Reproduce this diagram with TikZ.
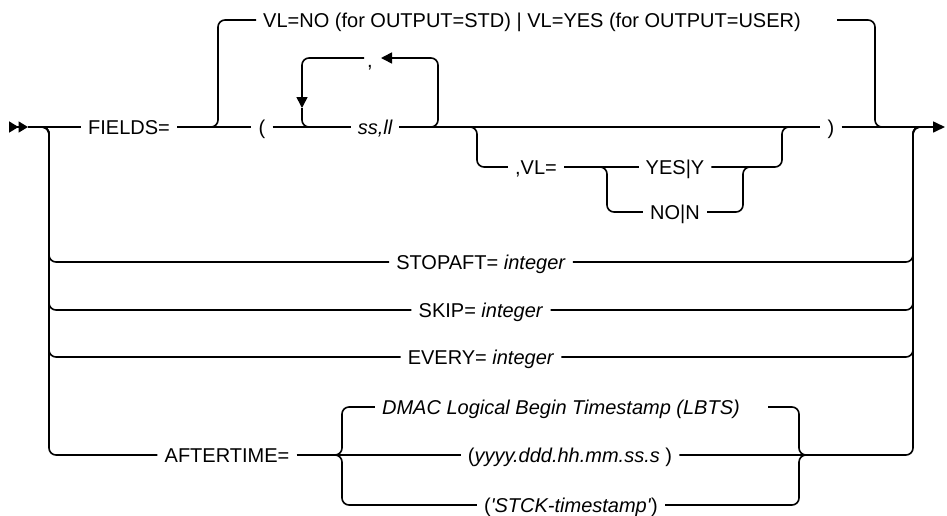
\documentclass[tikz,border=0pt]{standalone}
\usepackage{fontspec}
\setmainfont{Liberation Sans}
\usetikzlibrary{positioning, arrows.meta, calc}

\begin{document}
\begin{tikzpicture}[
    x=1pt, y=-1pt,
    rail/.style={
        line width=1.6pt,
        rounded corners=7pt
    },
    kw/.style={
        inner xsep=7pt,
        inner ysep=0pt,
        text height=14.3pt,
        text depth=0pt,
        font=\fontsize{20}{24}\selectfont
    },
    var/.style={
        kw,
        font=\fontsize{20}{24}\selectfont\itshape
    }
]
    \useasboundingbox (0,0) rectangle (947,515);

    % --- Main line ---
    \coordinate (start) at (9,127);
    \coordinate (in) at (28,127);
    \node[kw] (fields) at (129,127) {FIELDS=};
    \node[kw] (lparen) at (262,127) {(};
    \node[var] (ssll) at (375,127) {ss,ll};
    \node[kw] (rparen) at (831,127) {)};
    \coordinate (out) at (945,127);

    \draw[rail, -{Triangle[length=9.5pt, width=11pt]Triangle[length=9.5pt, width=11pt]}] (start) -- (in);
    \draw[rail] (in) -- (fields.west);
    \draw[rail] (fields.east) -- (lparen.west);
    \draw[rail] (lparen.east) -- (ssll.west);
    \draw[rail] (ssll.east) -- (rparen.west);
    \draw[rail, -{Triangle[length=12pt, width=11pt]}] (rparen.east) -- (out);

    % --- Default VL (bypass) ---
    \node[kw] (topvl) at (532,20) {VL=NO (for OUTPUT=STD) | VL=YES (for OUTPUT=USER)};
    \coordinate (topsplit) at (218,127);
    \coordinate (topend) at (837,20);
    \coordinate (topjoin) at (875,127);
    \draw[rail] ($(topsplit)+(-12,0)$) -| (topvl.west -| topsplit) -- (topvl.west);
    \draw[rail] (topend) -| (topjoin) -- ($(topjoin)+(12,0)$);

    % --- Repeat loop ---
    \node[kw, inner xsep=2pt] (comma) at (370,60) {,};
    \coordinate (loopl) at (302,127);
    \coordinate (loopr) at (438,127);
    \coordinate (looptop) at (438,58);
    \coordinate (looptip) at (381,58);
    \coordinate (loopstart) at (364,58);
    \coordinate (loopcorner) at (302,58);
    \coordinate (loopdown) at (302,108);
    \draw[rail, -{Triangle[length=11pt, width=11pt]}] ($(loopr)+(-14,0)$) -| (looptop) -- (looptip);
    \draw[rail, -{Triangle[length=11pt, width=11pt]}] (loopstart) -- (loopcorner) -- (loopdown);
    \draw[rail] (loopdown) -- (loopl) -- ($(loopl)+(14,0)$);

    % --- Optional VL ---
    \coordinate (vlsplit) at (477,127);
    \coordinate (vljoin) at (782,127);
    \node[kw] (vlkw) at (536,167) {,VL=};
    \coordinate (ynsplit) at (607,167);
    \coordinate (ynjoin) at (743,167);
    \node[kw] (yes) at (675,167) {YES|Y};
    \node[kw] (no) at (675,212) {NO|N};
    \draw[rail] ($(vlsplit)+(-12,0)$) -| (vlkw.west -| vlsplit) -- (vlkw.west);
    \draw[rail] (vlkw.east) -- (yes.west);
    \draw[rail] (yes.east) -| (vljoin) -- ($(vljoin)+(12,0)$);
    \draw[rail] ($(ynsplit)+(-12,0)$) -| (no.west -| ynsplit) -- (no.west);
    \draw[rail] (no.east) -| (ynjoin) -- ($(ynjoin)+(12,0)$);

    % --- Other keywords ---
    \coordinate (lrail) at (49,127);
    \coordinate (rrail) at (913,127);
    \node[kw] (stopaft) at (481,262) {STOPAFT= \textit{integer}};
    \node[kw] (skip) at (481,310) {SKIP= \textit{integer}};
    \node[kw] (every) at (481,357) {EVERY= \textit{integer}};

    \draw[rail] ($(lrail)+(-9,0)$) -| (stopaft.west -| lrail) -- (stopaft.west);
    \draw[rail] (stopaft.east) -| (rrail) -- ($(rrail)+(12,0)$);
    \draw[rail] ($(lrail)+(-9,0)$) -| (skip.west -| lrail) -- (skip.west);
    \draw[rail] (skip.east) -| (rrail) -- ($(rrail)+(12,0)$);
    \draw[rail] ($(lrail)+(-9,0)$) -| (every.west -| lrail) -- (every.west);
    \draw[rail] (every.east) -| (rrail) -- ($(rrail)+(12,0)$);

    % --- AFTERTIME ---
    \node[kw] (aftertime) at (227,455) {AFTERTIME=};
    \coordinate (atsplit) at (342,455);
    \coordinate (atjoin) at (799,455);
    \node[var] (dmac) at (561,407) {DMAC Logical Begin Timestamp (LBTS)};
    \coordinate (dmacend) at (768,407);
    \node[kw] (tstamp) at (570,455) {(\textit{yyyy.ddd.hh.mm.ss.s} )};
    \node[kw] (stck) at (571,505) {(\textit{\textquotesingle STCK-timestamp\textquotesingle})};

    \draw[rail] ($(lrail)+(-9,0)$) -| (aftertime.west -| lrail) -- (aftertime.west);
    \draw[rail] (aftertime.east) -- (tstamp.west);
    \draw[rail] (tstamp.east) -| (rrail) -- ($(rrail)+(12,0)$);
    \draw[rail] ($(atsplit)+(-12,0)$) -| (dmac.west -| atsplit) -- (dmac.west);
    \draw[rail] (dmacend) -| (atjoin) -- ($(atjoin)+(12,0)$);
    \draw[rail] ($(atsplit)+(-12,0)$) -| (stck.west -| atsplit) -- (stck.west);
    \draw[rail] (stck.east) -| (atjoin) -- ($(atjoin)+(12,0)$);

\end{tikzpicture}
\end{document}
